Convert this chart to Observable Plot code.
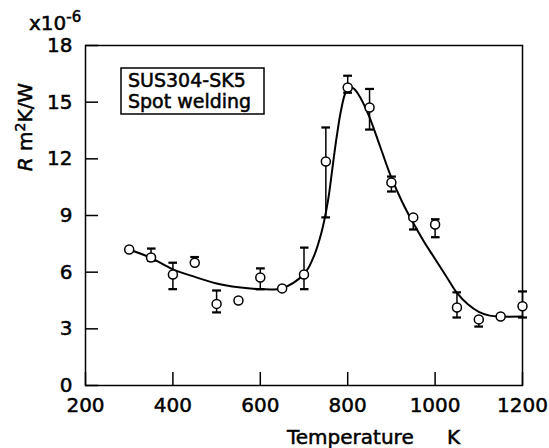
<!DOCTYPE html>
<html>
<head>
<meta charset="utf-8">
<script src="https://cdn.jsdelivr.net/npm/d3@7"></script>
<script src="https://cdn.jsdelivr.net/npm/@observablehq/plot@0.6"></script>
<style>
  html, body { margin: 0; padding: 0; background: white; }
  svg { display: block; }
  svg text { stroke: black; stroke-width: 0.5px; }
</style>
</head>
<body>
<div id="chart"></div>
<script>
// Measured points (Temperature K, R in 1e-6 m²K/W)
const temps   = [300, 350, 400, 450, 500, 550, 600, 650, 700, 750, 800, 850, 900, 950, 1000, 1050, 1100, 1150, 1200];
const resist  = [7.2, 6.78, 5.88, 6.5, 4.32, 4.5, 5.72, 5.14, 5.88, 11.86, 15.78, 14.72, 10.75, 8.9, 8.52, 4.13, 3.5, 3.65, 4.2];
const errLow  = [null, 6.6, 5.1, null, 3.87, null, 5.1, null, 5.1, 8.9, 15.5, 13.55, 10.27, 8.26, 7.85, 3.6, 3.12, null, 3.6];
const errHigh = [null, 7.25, 6.5, 6.8, 5.03, null, 6.2, null, 7.3, 13.66, 16.4, 15.7, 11.06, null, 8.8, 4.93, null, null, 4.98];

// Fitted curve
const curveT = [300, 350, 400, 450, 500, 550, 600, 650, 700, 720, 740, 755, 765, 775, 785, 795, 805, 815, 830, 850, 875, 900, 925, 950, 975, 1000, 1025, 1050, 1075, 1100, 1125, 1150, 1200];
const curveR = [7.2, 6.75, 6.15, 5.75, 5.4, 5.2, 5.1, 5.15, 5.9, 6.7, 8.1, 9.8, 11.5, 13.2, 14.6, 15.5, 15.8, 15.7, 15.2, 14.2, 12.6, 11.0, 9.7, 8.6, 7.6, 6.7, 5.8, 4.9, 4.3, 3.9, 3.7, 3.65, 3.65];

const xTicks = [200, 400, 600, 800, 1000, 1200];
const yTicks = [0, 3, 6, 9, 12, 15, 18];
const legendLines = ["SUS304-SK5", "Spot welding"];

const W = 549, H = 448, mL = 85, mR = 27, mT = 45, mB = 63;
const xDom = [200, 1200], yDom = [0, 18];
const tickPx = 13;
// inward tick length converted to data units through the plot's own extent
const tickLenX = tickPx * (xDom[1] - xDom[0]) / (W - mL - mR);
const tickLenY = tickPx * (yDom[1] - yDom[0]) / (H - mT - mB);

const points = temps.map((t, i) => ({T: t, R: resist[i], lo: errLow[i], hi: errHigh[i]}));
const errs = points.filter(d => d.lo != null || d.hi != null)
  .map(d => ({T: d.T, lo: d.lo ?? d.R, hi: d.hi ?? d.R}));
const curve = curveT.map((t, i) => ({T: t, R: curveR[i]}));

const svg = Plot.plot({
  width: W,
  height: H,
  marginLeft: mL,
  marginRight: mR,
  marginTop: mT,
  marginBottom: mB,
  style: {fontFamily: "DejaVu Sans", fontSize: "20px", color: "black", background: "white"},
  x: {domain: xDom},
  y: {domain: yDom},
  marks: [
    // inward tick marks
    Plot.ruleX(xTicks, {x: d => d, y1: yDom[0], y2: yDom[0] + tickLenY, stroke: "black", strokeWidth: 1.5}),
    Plot.ruleY(yTicks, {y: d => d, x1: xDom[0], x2: xDom[0] + tickLenX, stroke: "black", strokeWidth: 1.5}),
    // tick labels
    Plot.axisX({ticks: xTicks, tickSize: 0, tickPadding: 12, label: null, tickFormat: d => String(d)}),
    Plot.axisY({ticks: yTicks, tickSize: 0, tickPadding: 13, label: null, tickFormat: d => String(d)}),
    Plot.frame({stroke: "black", strokeWidth: 1.5}),
    Plot.line(curve, {x: "T", y: "R", curve: "catmull-rom", stroke: "black", strokeWidth: 2}),
    Plot.link(errs, {x1: "T", x2: "T", y1: "lo", y2: "hi", stroke: "black", strokeWidth: 1.5, marker: "tick"}),
    Plot.dot(points, {x: "T", y: "R", r: 4.5, fill: "white", stroke: "black", strokeWidth: 1.5})
  ]
});

const s = d3.select(svg);
function txt(x, y, size = 20) {
  return s.append("text").attr("x", x).attr("y", y).attr("text-anchor", "start")
    .attr("font-family", "DejaVu Sans").attr("font-size", size).attr("fill", "black");
}
// exponent label
const ex = txt(29, 30);
ex.append("tspan").text("x10");
ex.append("tspan").attr("dy", -8).attr("font-size", 15).text("-6");

// y label
const yl = s.append("text").attr("transform", "translate(32,127) rotate(-90)")
  .attr("text-anchor", "middle").attr("font-family", "DejaVu Sans").attr("font-size", 20).attr("fill", "black");
yl.append("tspan").attr("font-style", "italic").text("R");
yl.append("tspan").text(" m");
yl.append("tspan").attr("dy", -7).attr("font-size", 14).text("2");
yl.append("tspan").attr("dy", 7).text("K/W");

// x label
txt(287, 444).text("Temperature");
txt(447, 444).text("K");

// legend box
s.append("rect").attr("x", 121).attr("y", 68).attr("width", 143).attr("height", 46)
  .attr("fill", "white").attr("stroke", "black").attr("stroke-width", 1.5);
legendLines.forEach((t, i) => txt(128, 87 + i * 21, 19).text(t));

document.getElementById("chart").appendChild(svg);
</script>
</body>
</html>
